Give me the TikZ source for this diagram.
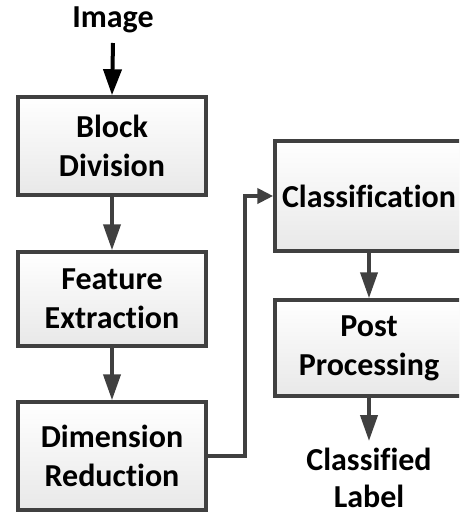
\documentclass[tikz,border=0pt]{standalone}
\usepackage{fontspec}
\setmainfont[Ligatures={NoCommon}]{Carlito}
\usetikzlibrary{arrows.meta,shadows}
\definecolor{edgegray}{HTML}{404040}
\tikzset{
  blockbox/.style={draw=edgegray, line width=3.5pt, top color=white, bottom color=black!9,
    minimum width=188pt, align=center, inner sep=0pt,
    font=\bfseries\fontsize{32}{39}\selectfont,
    drop shadow={shadow xshift=1.5pt, shadow yshift=-1.5pt, opacity=0.25}},
  txtlabel/.style={align=center, inner sep=0pt, font=\bfseries\fontsize{32}{37}\selectfont},
  flowarrow/.style={draw=edgegray, line width=4pt, -{Triangle[length=26pt,width=17pt]}},
  bentarrow/.style={draw=edgegray, line width=4pt, -{Triangle[length=16pt,width=15pt]}},
}
\begin{document}
\begin{tikzpicture}[x=1pt,y=-1pt]
\clip (0,0) rectangle (459,515);
\node[txtlabel] (img) at (113,20) {Image};
\node[blockbox, minimum height=98pt] (bd) at (112,146) {Block\\Division};
\node[blockbox, minimum height=94pt] (fe) at (112,299) {Feature\\Extraction};
\node[blockbox, minimum height=108pt] (dr) at (112,456) {Dimension\\Reduction};
\node[blockbox, minimum height=110pt] (cl) at (369,196) {Classification};
\node[blockbox, minimum height=96pt] (pp) at (369,348) {Post\\Processing};
\node[txtlabel, anchor=north] (lab) at (369,448) {Classified\\Label};
\coordinate (imgbot) at (113,43);
\coordinate (labtop) at (369,441);
\draw[line width=4pt, -{Triangle[length=26pt,width=18pt]}] (imgbot) -- (bd.north);
\draw[flowarrow] (bd) -- (fe);
\draw[flowarrow] (fe) -- (dr);
\draw[flowarrow] (cl) -- (pp);
\draw[flowarrow] (pp.south) -- (labtop);
\draw[bentarrow] (dr.east) -- ++(37,0) |- (cl.west);
\end{tikzpicture}
\end{document}
